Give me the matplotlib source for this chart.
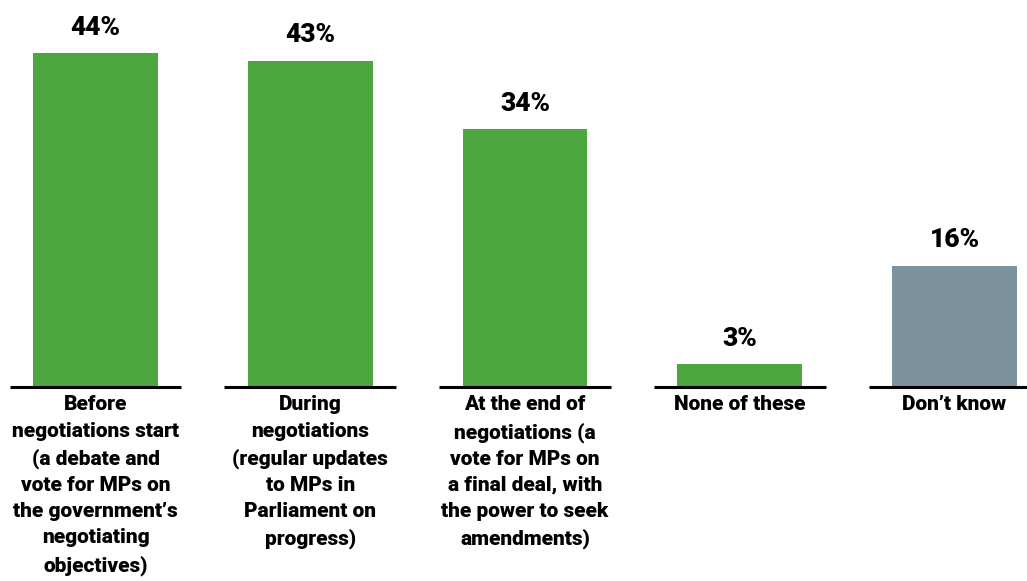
import matplotlib.pyplot as plt

# Survey responses: when should MPs have a say on the negotiations
categories = [
    'Before\nnegotiations start\n(a debate and\nvote for MPs on\nthe government\u2019s\nnegotiating\nobjectives)',
    'During\nnegotiations\n(regular updates\nto MPs in\nParliament on\nprogress)',
    'At the end of\nnegotiations (a\nvote for MPs on\na final deal, with\nthe power to seek\namendments)',
    'None of these',
    'Don\u2019t know',
]
values = [44, 43, 34, 3, 16]
colors = ['#4ca73f', '#4ca73f', '#4ca73f', '#4ca73f', '#7d929f']

fig = plt.figure(figsize=(10.27, 5.81), dpi=100)
ax = fig.add_axes([0, 194 / 581, 1, 387 / 581])

x = list(range(len(values)))
bars = ax.bar(x, values, width=0.582, color=colors, zorder=2)

# short baseline under each bar
ax.hlines([0] * len(x), [i - 0.40 for i in x], [i + 0.40 for i in x],
          color='black', linewidth=2.2, zorder=3, clip_on=False)

# value labels above bars
ax.bar_label(bars, labels=[f'{v}%' for v in values], padding=9.5,
             fontsize=19, fontweight='black',
             family=['Roboto', 'DejaVu Sans'])

ax.set_xticks(x, categories)
ax.tick_params(axis='x', length=0, pad=6)
for lbl in ax.get_xticklabels():
    lbl.set_fontsize(15)
    lbl.set_fontweight('black')
    lbl.set_family(['Roboto', 'DejaVu Sans'])
    lbl.set_linespacing(1.48)

ax.set_xlim(-95.5 / 214.75, (1027 - 95.5) / 214.75)
ax.set_ylim(0, 387 / 7.59)
ax.set_yticks([])
for s in ax.spines.values():
    s.set_visible(False)

fig.savefig('out.png', dpi=100)
